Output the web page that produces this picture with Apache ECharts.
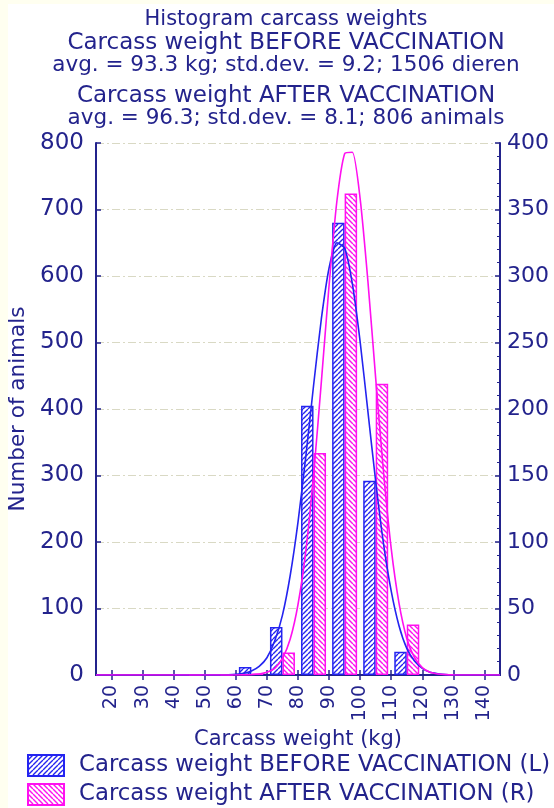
<!DOCTYPE html>
<html>
<head>
<meta charset="utf-8">
<title>Histogram carcass weights</title>
<script src="https://cdn.jsdelivr.net/npm/echarts@6/dist/echarts.min.js"></script>
<style>
html, body { margin: 0; padding: 0; background: #fffff0; }
#chart { position: absolute; left: 8px; top: 4px; width: 546px; height: 804px; background: #fff; }
</style>
</head>
<body>
<div id="chart"></div>
<script>
// class centres (kg) and counts per class
const binCenters = [45, 55, 65, 75, 85, 95, 105, 115]
const beforeCounts = [1, 1, 12, 72, 405, 680, 292, 35]   // left axis
const afterCounts = [0, 0, 1, 17, 167, 362, 219, 38]     // right axis

// fitted curves
const curveX = [15, 20, 25, 30, 35, 40, 45, 50, 55,
    57.5, 60, 62.5, 65, 67.5, 70, 72.5, 75, 77.5, 80, 82.5, 85, 87.5, 90, 92.5, 95,
    97.5, 100, 102.5, 105, 107.5, 110, 112.5, 115, 117.5, 120, 122.5, 125, 127.5, 130,
    135, 140, 145]
const beforeFit = [0, 0, 0, 0, 0, 0, 0, 0, 0,
    0.3, 1, 2.5, 6, 13, 26, 51, 90, 150, 230, 328, 435, 535, 612, 650, 642,
    588, 501, 396, 291, 198, 126, 74, 40, 21, 10, 4, 2, 0.6, 0.2,
    0, 0, 0]
const afterFit = [0, 0, 0, 0, 0, 0, 0, 0, 0,
    0, 0, 0.1, 0.2, 0.7, 2, 5, 12.5, 27, 53, 93, 150, 220, 293, 356, 392,
    393, 358, 296, 223, 153, 95, 54, 27.5, 13, 5.5, 2, 0.8, 0.3, 0.1,
    0, 0, 0]

const xTicks = [20, 30, 40, 50, 60, 70, 80, 90, 100, 110, 120, 130, 140]

const navy = '#23238c'
const blue = '#2424f0'
const pink = '#ff10f0'
const font = 'DejaVu Sans'

// diagonal hatch fill
const hatch = (color, up) => {
    const n = 5
    const c = document.createElement('canvas')
    c.width = n
    c.height = n
    const ctx = c.getContext('2d')
    ctx.fillStyle = '#ffffff'
    ctx.fillRect(0, 0, n, n)
    ctx.strokeStyle = color
    ctx.lineWidth = 1.4
    ctx.beginPath()
    for (let k = -1; k <= 1; k++) {
        if (up) {
            ctx.moveTo(k * n, n)
            ctx.lineTo(k * n + n, 0)
        } else {
            ctx.moveTo(k * n, 0)
            ctx.lineTo(k * n + n, n)
        }
    }
    ctx.stroke()
    return { image: c, repeat: 'repeat' }
}

const chart = echarts.init(document.getElementById('chart'))

const capsStyle = { fontFamily: font, fontWeight: 'normal', color: navy, fontSize: 23, lineHeight: 22 }
const statStyle = { fontFamily: font, fontWeight: 'normal', color: navy, fontSize: 21.5, lineHeight: 22 }

const option = {
    animation: false,
    title: [
        {
            text: 'Histogram carcass weights',
            left: 278, top: 4, textAlign: 'center', padding: 0,
            textStyle: { ...capsStyle, fontSize: 21, lineHeight: 24 }
        },
        {
            text: 'Carcass weight BEFORE VACCINATION',
            left: 278, top: 28, textAlign: 'center', padding: 0,
            textStyle: capsStyle
        },
        {
            text: 'avg. = 93.3 kg; std.dev. = 9.2; 1506 dieren',
            left: 278, top: 50, textAlign: 'center', padding: 0,
            textStyle: statStyle
        },
        {
            text: 'Carcass weight AFTER VACCINATION',
            left: 278, top: 81, textAlign: 'center', padding: 0,
            textStyle: capsStyle
        },
        {
            text: 'avg. = 96.3; std.dev. = 8.1; 806 animals',
            left: 278, top: 103, textAlign: 'center', padding: 0,
            textStyle: statStyle
        }
    ],
    legend: {
        orient: 'vertical',
        left: 19,
        top: 750,
        padding: 0,
        itemWidth: 36,
        itemHeight: 21,
        itemGap: 6,
        icon: 'rect',
        data: ['Carcass weight BEFORE VACCINATION (L)', 'Carcass weight AFTER VACCINATION (R)'],
        textStyle: { fontFamily: font, fontSize: 22.8, color: navy, padding: [0, 0, 0, 10] }
    },
    grid: { left: 88, right: 54, top: 139, bottom: 133, containLabel: false, outerBoundsMode: 'none' },
    xAxis: [
        {
            type: 'value',
            min: 15,
            max: 145,
            name: 'Carcass weight (kg)',
            nameLocation: 'middle',
            nameGap: 53,
            nameTextStyle: { fontFamily: font, fontSize: 21, color: navy },
            axisLine: { lineStyle: { color: navy, width: 2 } },
            axisTick: { inside: true, length: 5, customValues: xTicks, lineStyle: { color: navy, width: 1.5 } },
            axisLabel: { rotate: 90, margin: 10, customValues: xTicks, fontFamily: font, fontSize: 19, color: navy },
            splitLine: { show: false }
        },
        {
            type: 'value',
            position: 'top',
            min: 15,
            max: 145,
            axisLine: { lineStyle: { color: navy, width: 2 } },
            axisTick: { inside: true, length: 5, customValues: xTicks, lineStyle: { color: navy, width: 1.5 } },
            axisLabel: { show: false },
            splitLine: { show: false }
        }
    ],
    yAxis: [
        {
            type: 'value',
            min: 0,
            max: 800,
            interval: 100,
            name: 'Number of animals',
            nameLocation: 'middle',
            nameGap: 65,
            nameTextStyle: { fontFamily: font, fontSize: 21.5, color: navy },
            axisLine: { show: true, lineStyle: { color: navy, width: 2 } },
            axisTick: { show: true, inside: true, length: 5, lineStyle: { color: navy, width: 1.5 } },
            axisLabel: { margin: 12, fontFamily: font, fontSize: 23, color: navy },
            splitLine: { lineStyle: { color: '#d9d9c4', type: [8, 3, 2, 3], width: 1 } }
        },
        {
            type: 'value',
            min: 0,
            max: 400,
            interval: 50,
            position: 'right',
            axisLine: { show: true, lineStyle: { color: navy, width: 2 } },
            axisTick: { show: true, inside: true, length: 5, lineStyle: { color: navy, width: 1.5 } },
            minorTick: { show: true, splitNumber: 5, length: 3, lineStyle: { color: navy } },
            axisLabel: { margin: 7, fontFamily: font, fontSize: 22, color: navy },
            splitLine: { show: false }
        }
    ],
    series: [
        {
            name: 'Carcass weight BEFORE VACCINATION (L)',
            type: 'bar',
            yAxisIndex: 0,
            barWidth: 12.5,
            barGap: '0%',
            itemStyle: { color: hatch(blue, true), borderColor: blue, borderWidth: 1.5 },
            data: binCenters.map((x, i) => [x, beforeCounts[i]])
        },
        {
            name: 'Carcass weight AFTER VACCINATION (R)',
            type: 'bar',
            yAxisIndex: 1,
            barWidth: 12.5,
            barGap: '0%',
            itemStyle: { color: hatch(pink, false), borderColor: pink, borderWidth: 1.5 },
            data: binCenters.map((x, i) => [x, afterCounts[i]])
        },
        {
            name: 'fit before',
            type: 'line',
            yAxisIndex: 0,
            smooth: 0.2,
            showSymbol: false,
            lineStyle: { color: blue, width: 1.6 },
            data: curveX.map((x, i) => [x, beforeFit[i]])
        },
        {
            name: 'fit after',
            type: 'line',
            yAxisIndex: 1,
            smooth: 0.2,
            showSymbol: false,
            lineStyle: { color: pink, width: 1.6 },
            data: curveX.map((x, i) => [x, afterFit[i]])
        }
    ]
}

chart.setOption(option)
window.addEventListener('resize', () => chart.resize())
</script>
</body>
</html>
